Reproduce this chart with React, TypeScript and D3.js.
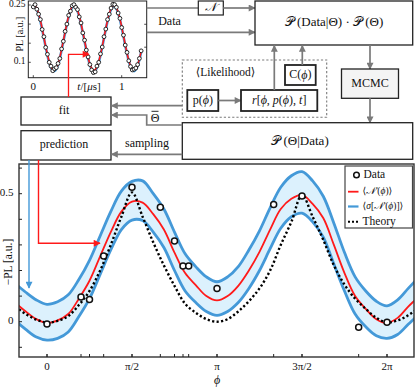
import React from "react";
import * as d3 from "d3";

const PI = Math.PI;

// ---------- main plot data ----------
const dataPhi = [0, PI / 5, PI / 4, PI / 3, PI / 2, (2 * PI) / 3, (3 * PI) / 4, (4 * PI) / 5, (5 * PI) / 6, PI, (4 * PI) / 3, (3 * PI) / 2, (11 * PI) / 6, 2 * PI];
const dataPL = [-0.009, 0.096, 0.087, 0.257, 0.525, 0.447, 0.315, 0.218, 0.218, 0.13, 0.458, 0.491, -0.022, -0.002];

// curve grid in units of pi/16
const curveIdx = d3.range(-4, 37);
const theory = [0.09, 0.06, 0.03, 0.008, -0.003, 0.003, 0.022, 0.065, 0.12, 0.2, 0.3, 0.41, 0.505, 0.41, 0.31, 0.22, 0.14, 0.07, 0.035, 0.01, 0.0, 0.01, 0.04, 0.08, 0.13, 0.2, 0.3, 0.39, 0.495, 0.41, 0.32, 0.22, 0.145, 0.09, 0.05, 0.015, -0.003, 0.005, 0.025, 0.055, 0.1];
const meanN = [0.12, 0.075, 0.04, 0.01, -0.005, 0.005, 0.03, 0.09, 0.16, 0.255, 0.35, 0.43, 0.469, 0.465, 0.42, 0.36, 0.27, 0.19, 0.143, 0.1, 0.083, 0.1, 0.14, 0.2, 0.273, 0.36, 0.44, 0.48, 0.495, 0.46, 0.405, 0.3, 0.19, 0.1, 0.05, 0.01, -0.005, 0.015, 0.059, 0.1, 0.15];
const sigUpper = [0.195, 0.15, 0.115, 0.085, 0.068, 0.078, 0.105, 0.165, 0.24, 0.335, 0.43, 0.51, 0.548, 0.55, 0.5, 0.44, 0.35, 0.265, 0.215, 0.175, 0.156, 0.175, 0.215, 0.28, 0.355, 0.445, 0.525, 0.57, 0.586, 0.55, 0.49, 0.385, 0.27, 0.175, 0.12, 0.08, 0.062, 0.085, 0.13, 0.175, 0.225];
const sigLower = [0.05, 0.005, -0.03, -0.06, -0.072, -0.065, -0.04, 0.02, 0.09, 0.185, 0.28, 0.36, 0.397, 0.395, 0.35, 0.29, 0.2, 0.12, 0.075, 0.04, 0.025, 0.04, 0.075, 0.13, 0.2, 0.285, 0.365, 0.41, 0.424, 0.39, 0.33, 0.225, 0.12, 0.03, -0.02, -0.055, -0.065, -0.05, -0.01, 0.03, 0.08];

const xTickVals = [0, PI / 2, PI, (3 * PI) / 2, 2 * PI];
const xTickLabels = ["0", "π/2", "π", "3π/2", "2π"];
const yTickVals = [-0.1, 0, 0.1, 0.2, 0.3, 0.4, 0.5, 0.6];
const yTickLabels = ["", "0", "", "", "", "", "0.5", ""];

// ---------- inset data ----------
const insetT = d3.range(0, 62).map((i) => i * 0.02);
const insetPL = [0.245, 0.251, 0.239, 0.226, 0.212, 0.186, 0.167, 0.139, 0.121, 0.1, 0.09, 0.078, 0.083, 0.086, 0.097, 0.11, 0.135, 0.155, 0.181, 0.2, 0.223, 0.234, 0.248, 0.251, 0.244, 0.238, 0.219, 0.203, 0.177, 0.158, 0.132, 0.114, 0.094, 0.08, 0.073, 0.075, 0.09, 0.1, 0.122, 0.14, 0.167, 0.187, 0.212, 0.226, 0.242, 0.252, 0.251, 0.244, 0.229, 0.215, 0.191, 0.171, 0.145, 0.126, 0.104, 0.089, 0.08, 0.082, 0.085, 0.094, 0.11, 0.13];
const insetFit = [0.2485, 0.2478, 0.2408, 0.2278, 0.2099, 0.1885, 0.1652, 0.1418, 0.1201, 0.1019, 0.0884, 0.0806, 0.0793, 0.0843, 0.0956, 0.1124, 0.1338, 0.1567, 0.1793, 0.2016, 0.221, 0.2362, 0.2458, 0.249, 0.2458, 0.2362, 0.221, 0.2016, 0.1793, 0.1567, 0.1338, 0.1124, 0.0956, 0.0843, 0.0793, 0.0806, 0.0884, 0.1019, 0.1201, 0.1418, 0.1652, 0.1885, 0.2099, 0.2278, 0.2408, 0.2478, 0.2485, 0.2426, 0.2308, 0.2138, 0.1929, 0.17, 0.1464, 0.1243, 0.1052, 0.0905, 0.0816, 0.079, 0.083, 0.0932, 0.1088, 0.1284];
const insetYTicks = [0.1, 0.15, 0.2, 0.25];
const insetYLabels = ["0.1", "", "", "0.25"];
const insetXTicks = [0, 1];

const FONT = "'Liberation Serif', 'DejaVu Serif', serif";
const GRAY = "#7a7a7a";
const DARK = "#222";
const RED = "#ff1a1a";
const BLUE = "#4499d8";

export default function App() {
  // main scales
  const x = d3.scaleLinear().domain([0, 2 * PI]).range([47, 387]);
  const y = d3.scaleLinear().domain([0, 0.5]).range([321.7, 193.7]);
  const P = { l: 19, r: 414, t: 164, b: 357 };
  const phiAt = (i: number) => (curveIdx[i] * PI) / 16;

  const lineOf = (arr: number[]) =>
    d3.line<number>().x((_, i) => x(phiAt(i))).y((d) => y(d)).curve(d3.curveCatmullRom.alpha(0.5))(arr) || "";
  const bandPath =
    d3
      .area<number>()
      .x((_, i) => x(phiAt(i)))
      .y0((_, i) => y(sigLower[i]))
      .y1((_, i) => y(sigUpper[i]))
      .curve(d3.curveCatmullRom.alpha(0.5))(sigUpper) || "";

  // inset scales
  const xi = d3.scaleLinear().domain([0, 1]).range([33.3, 121.7]);
  const yi = d3.scaleLinear().domain([0.1, 0.25]).range([62.3, 5]);
  const I = { l: 28.3, r: 146.7, t: 1, b: 77.7 };
  const insetLine =
    d3.line<number>().x((_, i) => xi(insetT[i])).y((d) => yi(d)).curve(d3.curveCatmullRom.alpha(0.5))(insetFit) || "";

  const txt = (s: number, extra: any = {}) => ({ fontFamily: FONT, fontSize: s, fill: "#111", ...extra });

  return (
    <svg width={415} height={389} style={{ position: "absolute", left: 0, top: 0, background: "#fff" }}>
      <defs>
        <marker id="ag" viewBox="0 0 10 10" refX="9" refY="5" markerWidth="8" markerHeight="7" markerUnits="userSpaceOnUse" orient="auto">
          <path d="M0,0 L10,5 L0,10 z" fill={GRAY} />
        </marker>
        <marker id="ar" viewBox="0 0 10 10" refX="9" refY="5" markerWidth="9" markerHeight="7" markerUnits="userSpaceOnUse" orient="auto">
          <path d="M0,0 L10,5 L0,10 z" fill={RED} />
        </marker>
        <marker id="ab" viewBox="0 0 10 10" refX="9" refY="5" markerWidth="9" markerHeight="7" markerUnits="userSpaceOnUse" orient="auto">
          <path d="M0,0 L10,5 L0,10 z" fill={BLUE} />
        </marker>
        <clipPath id="mainclip">
          <rect x={P.l} y={P.t} width={P.r - P.l} height={P.b - P.t} />
        </clipPath>
        <clipPath id="insetclip">
          <rect x={I.l} y={I.t} width={I.r - I.l} height={I.b - I.t} />
        </clipPath>
      </defs>

      {/* ---------------- inset ---------------- */}
      <g clipPath="url(#insetclip)">
        <path d={insetLine} fill="none" stroke={BLUE} strokeWidth={2.6} transform="translate(0,0.8)" />
        <path d={insetLine} fill="none" stroke={RED} strokeWidth={1.6} />
        {insetPL.map((v, i) => (
          <circle key={i} cx={xi(insetT[i])} cy={yi(v)} r={1.9} fill="#fff" stroke="#111" strokeWidth={0.9} />
        ))}
      </g>
      <rect x={I.l} y={I.t} width={I.r - I.l} height={I.b - I.t} fill="none" stroke={DARK} strokeWidth={1} />
      {insetYTicks.map((v, i) => (
        <g key={i}>
          <line x1={I.l} x2={I.l + 2.5} y1={yi(v)} y2={yi(v)} stroke={DARK} strokeWidth={0.8} />
          <text x={25.5} y={yi(v)} textAnchor="end" dominantBaseline="middle" {...txt(9.5)}>{insetYLabels[i]}</text>
        </g>
      ))}
      {[0.21, 0.15].map((v, i) => (
        <line key={i} x1={I.r} x2={I.r - 2.5} y1={yi(v) + 4} y2={yi(v) + 4} stroke={DARK} strokeWidth={0.8} />
      ))}
      {insetXTicks.map((v, i) => (
        <g key={i}>
          <line x1={xi(v)} x2={xi(v)} y1={I.b} y2={I.b - 2.5} stroke={DARK} strokeWidth={0.8} />
          <text x={xi(v)} y={90} textAnchor="middle" {...txt(11)}>{String(v)}</text>
        </g>
      ))}
      <text x={89} y={90} textAnchor="middle" {...txt(11)}>
        <tspan fontStyle="italic">t</tspan>/[<tspan fontStyle="italic">μ</tspan>s]
      </text>
      <text transform="translate(23,34) rotate(-90)" textAnchor="middle" {...txt(10)}>PL [a.u.]</text>

      {/* ---------------- diagram ---------------- */}
      <line x1={I.r} y1={8} x2={198.3} y2={8} stroke={GRAY} strokeWidth={1.7} />
      <rect x={198.3} y={1} width={25} height={14} fill="#fff" stroke={DARK} strokeWidth={1.2} />
      <text x={210.8} y={8.5} textAnchor="middle" dominantBaseline="middle" {...txt(12, { fontStyle: "italic" })}>𝒩</text>
      <line x1={223.3} y1={8} x2={255} y2={8} stroke={GRAY} strokeWidth={1.7} markerEnd="url(#ag)" />
      <text x={169.5} y={22} textAnchor="middle" dominantBaseline="middle" {...txt(12)}>Data</text>
      <line x1={I.r} y1={32.3} x2={255} y2={32.3} stroke={GRAY} strokeWidth={1.7} markerEnd="url(#ag)" />

      <rect x={255} y={1} width={157.7} height={44} fill="#fff" stroke={DARK} strokeWidth={1.3} />
      <text x={334} y={23} textAnchor="middle" dominantBaseline="middle" {...txt(13)}>𝒫 (Data|Θ) · 𝒫 (Θ)</text>

      <rect x={182.3} y={60} width={144.4} height={57.3} fill="none" stroke={GRAY} strokeWidth={1.1} strokeDasharray="2.2 2" />
      <text x={225.5} y={73} textAnchor="middle" dominantBaseline="middle" {...txt(11.5)}>⟨Likelihood⟩</text>
      <rect x={285} y={65} width={30.7} height={20} fill="#fff" stroke={DARK} strokeWidth={1.8} />
      <text x={300.3} y={75.5} textAnchor="middle" dominantBaseline="middle" {...txt(12)}>
        C(<tspan fontStyle="italic">ϕ</tspan>)
      </text>
      <rect x={187.3} y={90} width={31} height={21} fill="#fff" stroke={DARK} strokeWidth={1.8} />
      <text x={202.8} y={101} textAnchor="middle" dominantBaseline="middle" {...txt(12)}>
        p(<tspan fontStyle="italic">ϕ</tspan>)
      </text>
      <line x1={218.3} y1={100.5} x2={241} y2={100.5} stroke={GRAY} strokeWidth={1.7} markerEnd="url(#ag)" />
      <rect x={241} y={90} width={76.3} height={21} fill="#fff" stroke={DARK} strokeWidth={1.8} />
      <text x={279.2} y={101} textAnchor="middle" dominantBaseline="middle" {...txt(12)}>
        <tspan fontStyle="italic">r</tspan>[<tspan fontStyle="italic">ϕ</tspan>, <tspan fontStyle="italic">p</tspan>(<tspan fontStyle="italic">ϕ</tspan>), <tspan fontStyle="italic">t</tspan>]
      </text>
      <line x1={274.3} y1={90} x2={274.3} y2={45.5} stroke={GRAY} strokeWidth={1.7} markerEnd="url(#ag)" />
      <line x1={302.3} y1={65} x2={302.3} y2={45.5} stroke={GRAY} strokeWidth={1.7} markerEnd="url(#ag)" />

      <line x1={370} y1={45} x2={370} y2={69} stroke={GRAY} strokeWidth={1.7} markerEnd="url(#ag)" />
      <rect x={341.5} y={69} width={57} height={29.3} fill="#f4f4f4" stroke={DARK} strokeWidth={1.3} />
      <text x={370} y={84} textAnchor="middle" dominantBaseline="middle" {...txt(12)}>MCMC</text>
      <line x1={370} y1={98.3} x2={370} y2={122.7} stroke={GRAY} strokeWidth={1.7} markerEnd="url(#ag)" />

      <rect x={182.3} y={122.7} width={230.4} height={36.6} fill="#fff" stroke={DARK} strokeWidth={1.3} />
      <text x={300} y={142} textAnchor="middle" dominantBaseline="middle" {...txt(13)}>𝒫 (Θ|Data)</text>

      <rect x={21} y={97} width={90} height={28} fill="#fff" stroke={DARK} strokeWidth={1.3} />
      <text x={64} y={111.5} textAnchor="middle" dominantBaseline="middle" {...txt(12)}>fit</text>
      <rect x={21} y={130.7} width={90} height={29.3} fill="#fff" stroke={DARK} strokeWidth={1.3} />
      <text x={64} y={145.5} textAnchor="middle" dominantBaseline="middle" {...txt(12)}>prediction</text>

      <line x1={182.3} y1={105.7} x2={111.5} y2={105.7} stroke={GRAY} strokeWidth={1.7} markerEnd="url(#ag)" />
      <path d="M182.3,125 L146.7,125 L146.7,115 L111.5,115" fill="none" stroke={GRAY} strokeWidth={1.7} markerEnd="url(#ag)" />
      <text x={155} y={119} textAnchor="middle" dominantBaseline="middle" {...txt(12)}>Θ</text>
      <line x1={151.5} x2={158.5} y1={111.3} y2={111.3} stroke="#111" strokeWidth={0.9} />
      <line x1={182.3} y1={154.3} x2={111.5} y2={154.3} stroke={GRAY} strokeWidth={1.7} markerEnd="url(#ag)" />
      <text x={147} y={144.5} textAnchor="middle" dominantBaseline="middle" {...txt(12)}>sampling</text>

      <path d="M68.5,97 L68.5,54.3 L89,54.3" fill="none" stroke={RED} strokeWidth={1.3} markerEnd="url(#ar)" />

      {/* ---------------- main plot ---------------- */}
      <g clipPath="url(#mainclip)">
        <path d={bandPath} fill="#dcf1fd" stroke="none" />
        <path d={lineOf(sigUpper)} fill="none" stroke={BLUE} strokeWidth={2.8} />
        <path d={lineOf(sigLower)} fill="none" stroke={BLUE} strokeWidth={2.8} />
        <path d={lineOf(meanN)} fill="none" stroke={RED} strokeWidth={1.8} />
        <path d={lineOf(theory)} fill="none" stroke="#000" strokeWidth={2.4} strokeDasharray="2.2 2.3" />
      </g>
      {dataPL.map((v, i) => (
        <circle key={i} cx={x(dataPhi[i])} cy={y(v)} r={3} fill="#fff" stroke="#111" strokeWidth={1.5} />
      ))}
      <rect x={P.l} y={P.t} width={P.r - P.l} height={P.b - P.t} fill="none" stroke="#333" strokeWidth={1.4} />
      {dataPhi.map((v, i) => (
        <line key={"mt" + i} x1={x(v)} x2={x(v)} y1={P.b} y2={P.b - 3} stroke="#222" strokeWidth={1} />
      ))}
      {xTickVals.map((v, i) => (
        <g key={"xt" + i}>
          <line x1={x(v)} x2={x(v)} y1={P.b} y2={P.b - 3} stroke="#222" strokeWidth={1} />
          <text x={x(v)} y={369.5} textAnchor="middle" {...txt(11)}>{xTickLabels[i]}</text>
        </g>
      ))}
      {yTickVals.map((v, i) => (
        <g key={"yt" + i}>
          <line x1={P.l} x2={P.l + 3} y1={y(v)} y2={y(v)} stroke="#222" strokeWidth={1} />
          <text x={13.5} y={y(v)} textAnchor="end" dominantBaseline="middle" {...txt(11)}>{yTickLabels[i]}</text>
        </g>
      ))}
      <text x={217} y={384} textAnchor="middle" {...txt(12, { fontStyle: "italic" })}>ϕ</text>
      <text transform="translate(9,262) rotate(-90)" textAnchor="middle" dominantBaseline="middle" {...txt(11.5)}>−PL [a.u.]</text>

      <path d="M38.5,160 L38.5,243.3 L100,243.3" fill="none" stroke={RED} strokeWidth={1.4} markerEnd="url(#ar)" />
      <line x1={29} y1={160} x2={29} y2={288} stroke={BLUE} strokeWidth={1.4} markerEnd="url(#ab)" />

      <rect x={345} y={166} width={67.5} height={62} fill="#fff" stroke="#444" strokeWidth={1.2} />
      <circle cx={356.5} cy={175} r={2.8} fill="#fff" stroke="#111" strokeWidth={1.5} />
      <text x={363.5} y={175.5} dominantBaseline="middle" {...txt(11.5)}>Data</text>
      <line x1={348} x2={358.5} y1={191.7} y2={191.7} stroke={RED} strokeWidth={1.8} />
      <text x={362.5} y={192} dominantBaseline="middle" {...txt(9.5)}>
        ⟨<tspan fontStyle="italic">𝒩′</tspan>(<tspan fontStyle="italic">ϕ</tspan>)⟩
      </text>
      <line x1={348} x2={358.5} y1={206.5} y2={206.5} stroke={BLUE} strokeWidth={2.2} />
      <text x={362.5} y={207} dominantBaseline="middle" {...txt(9.5)}>
        ⟨<tspan fontStyle="italic">σ</tspan>[<tspan fontStyle="italic">𝒩′</tspan>(<tspan fontStyle="italic">ϕ</tspan>)]⟩
      </text>
      <line x1={348} x2={360} y1={221.7} y2={221.7} stroke="#000" strokeWidth={2} strokeDasharray="2 2" />
      <text x={362.5} y={222} dominantBaseline="middle" {...txt(11.5)}>Theory</text>
    </svg>
  );
}
